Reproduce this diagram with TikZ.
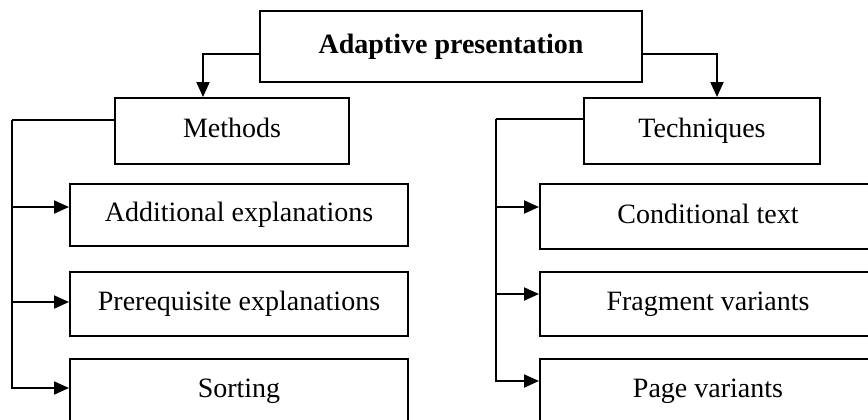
\documentclass[tikz,border=0pt]{standalone}
\usepackage{fontspec}
\setmainfont{Liberation Serif}
\usetikzlibrary{arrows.meta}
\tikzset{
  box/.style={draw, line width=1pt, inner sep=0pt, minimum width=#1, text height=9.6pt, text depth=3pt, align=center},
  arr/.style={line width=1pt, -{Triangle[length=7.5pt,width=6.5pt]}},
  link/.style={line width=1pt}
}
\begin{document}
\begin{tikzpicture}[x=0.5pt, y=-0.5pt, font=\fontsize{14}{16}\selectfont, line join=miter]
			%%%%%%%%%%%%%%%%%%%%%%%%%%%%%%%%%
			\useasboundingbox (0,0) rectangle (868,419);
			\clip (0,0) rectangle (868,419);
			%%%%%%%%%%%%%%%%%%%%%%%%%%%%%%%%%
			\node[box=191pt, minimum height=35.5pt] (adapt) at (451,46.5) {\textbf{Adaptive presentation}};
			\node[box=117pt, minimum height=33pt] (methods) at (232,131) {Methods};
			\node[box=118pt, minimum height=33pt] (techn) at (702,131) {Techniques};
			%%%%%%%%%%%%%%%%%%%%%%%%%%%%%%%%%
			\node[box=169pt, minimum height=31pt] (addexpl) at (239,215) {Additional explanations};
			\node[box=169pt, minimum height=32pt] (prereq) at (239,304) {Prerequisite explanations};
			\node[box=169pt, minimum height=32pt] (sorting) at (239,391) {Sorting};
			\node[box=168pt, minimum height=32.5pt] (condtext) at (708,216.5) {Conditional text};
			\node[box=168pt, minimum height=32pt] (fragvar) at (708,304) {Fragment variants};
			\node[box=168pt, minimum height=32pt] (pagevar) at (708,391) {Page variants};
			%%%%%%%%%%%%%%%%%%%%%%%%%%%%%%%%%
			\draw[arr] (adapt.west |- 0,54) -| (methods.north -| 203,0);
			\draw[arr] (adapt.east |- 0,54) -| (techn.north -| 717,0);
			%%%%%%%%%%%%%%%%%%%%%%%%%%%%%%%%%
			\coordinate (ltrunk) at (12,120);
			\coordinate (rtrunk) at (496,119);
			\draw[link] (methods.west |- ltrunk) -- (ltrunk);
			\draw[arr] (ltrunk) |- (sorting.west |- 0,388);
			\draw[arr] (ltrunk |- 0,207) -- (addexpl.west |- 0,207);
			\draw[arr] (ltrunk |- 0,302) -- (prereq.west |- 0,302);
			\draw[link] (techn.west |- rtrunk) -- (rtrunk);
			\draw[arr] (rtrunk) |- (pagevar.west |- 0,381);
			\draw[arr] (rtrunk |- 0,207) -- (condtext.west |- 0,207);
			\draw[arr] (rtrunk |- 0,294) -- (fragvar.west |- 0,294);
			%%%%%%%%%%%%%%%%%%%%%%%%%%%%%%%%%
		\end{tikzpicture}
\end{document}
